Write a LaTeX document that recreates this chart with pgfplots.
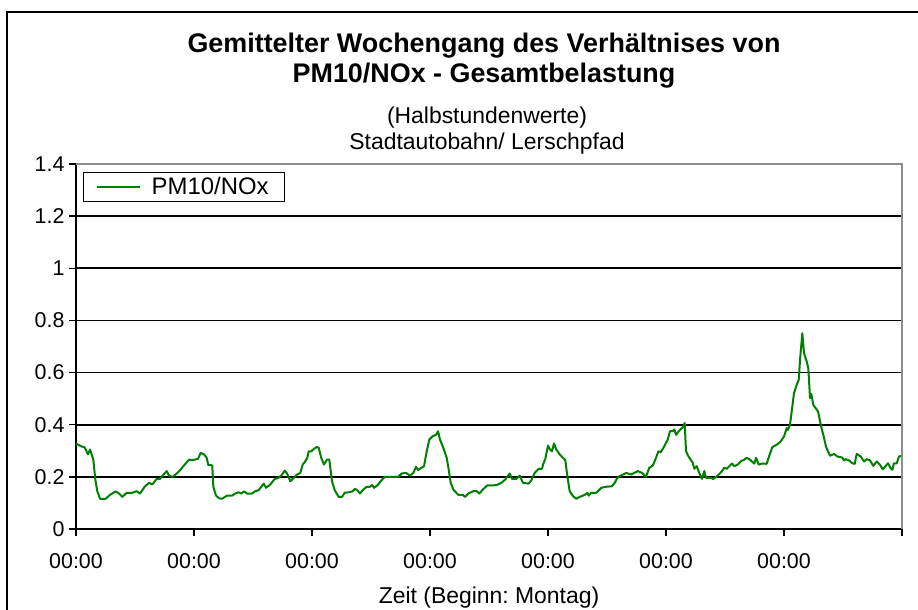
\documentclass[border=0pt]{standalone}
\usepackage{fontspec}
\setmainfont{Liberation Sans}
\usepackage{pgfplots}
\pgfplotsset{compat=1.18}
\usepackage{pgfplotstable}
\frenchspacing

\definecolor{xlgreen}{RGB}{0,128,0}
\definecolor{frame}{RGB}{140,140,140}

% Halbstundenmittel, x = Stunden ab Montag 00:00
\pgfplotstableread{
h y
0 0.328
0.96 0.318
1.77 0.313
2.44 0.286
2.85 0.305
3.52 0.266
3.93 0.19
4.33 0.145
4.88 0.116
6.04 0.116
6.92 0.131
8.07 0.144
8.75 0.136
9.42 0.123
10.31 0.139
11.45 0.139
12.35 0.145
13.02 0.136
13.97 0.162
14.85 0.177
15.52 0.171
16.41 0.192
17.08 0.192
17.55 0.203
18.45 0.222
18.92 0.205
19.67 0.2
20.6 0.215
21.29 0.228
22.11 0.247
22.98 0.266
23.45 0.264
24.14 0.266
24.81 0.269
25.36 0.292
26.03 0.286
26.58 0.273
26.91 0.245
27.52 0.245
27.72 0.242
27.93 0.162
28.48 0.128
29.09 0.118
29.7 0.116
30.71 0.128
31.73 0.128
32.4 0.136
33.09 0.141
33.62 0.136
34.17 0.144
34.78 0.136
35.8 0.136
36.35 0.144
37.16 0.149
38.18 0.174
38.64 0.158
39.52 0.171
40.41 0.192
41.09 0.195
41.76 0.205
42.45 0.224
42.92 0.213
43.59 0.183
44.28 0.196
44.95 0.209
45.62 0.215
46.11 0.247
46.64 0.26
47.04 0.273
47.33 0.298
47.86 0.298
48.35 0.307
49.02 0.315
49.36 0.311
49.89 0.273
50.44 0.247
51.05 0.266
51.52 0.266
52.07 0.183
52.62 0.149
53.43 0.123
54.1 0.123
54.65 0.139
55.59 0.141
56.28 0.145
56.75 0.154
57.21 0.149
57.76 0.136
58.43 0.151
59.12 0.162
59.8 0.162
60.2 0.169
60.61 0.158
61.28 0.167
61.97 0.183
62.79 0.2
65.55 0.2
66.24 0.213
67.12 0.215
67.93 0.205
68.6 0.215
69.15 0.238
69.62 0.226
70.11 0.233
70.78 0.241
71.33 0.298
71.86 0.343
72.55 0.356
73.22 0.361
73.63 0.375
74.03 0.343
74.71 0.311
75.4 0.273
75.8 0.228
76.21 0.177
76.74 0.151
77.76 0.131
78.65 0.131
79.12 0.123
79.79 0.136
80.81 0.145
81.5 0.145
82.03 0.136
82.72 0.151
83.65 0.167
85.49 0.168
86.5 0.177
87.32 0.19
88.21 0.213
88.68 0.192
89.55 0.192
90.24 0.205
90.91 0.177
92.07 0.174
92.6 0.187
93.29 0.215
94.11 0.231
94.78 0.231
94.98 0.247
95.45 0.269
96.0 0.32
96.41 0.305
96.81 0.298
97.22 0.328
97.69 0.305
98.38 0.286
99.05 0.273
99.52 0.264
99.93 0.203
100.41 0.145
101.09 0.126
101.76 0.116
102.45 0.123
103.47 0.131
104.0 0.139
104.28 0.128
104.81 0.139
105.83 0.139
106.84 0.158
107.86 0.162
109.02 0.164
109.57 0.177
110.1 0.196
110.58 0.203
111.25 0.209
111.92 0.215
112.88 0.209
113.55 0.215
114.25 0.222
115.12 0.215
115.93 0.2
116.6 0.235
117.3 0.243
117.97 0.273
118.44 0.298
118.98 0.295
119.66 0.318
120.35 0.343
120.81 0.375
121.36 0.375
121.69 0.382
122.03 0.361
122.58 0.375
123.05 0.384
123.52 0.392
123.8 0.407
124.07 0.298
124.62 0.277
125.08 0.264
125.43 0.254
125.76 0.231
126.24 0.241
126.77 0.215
127.32 0.192
127.79 0.222
128.14 0.196
129.15 0.196
129.62 0.192
130.52 0.205
131.39 0.222
131.86 0.235
132.35 0.231
132.88 0.241
133.42 0.251
133.89 0.241
134.58 0.247
135.25 0.26
135.92 0.266
136.41 0.273
137.08 0.266
137.63 0.256
137.96 0.251
138.31 0.273
138.85 0.247
139.53 0.251
140.48 0.25
140.95 0.278
141.62 0.314
142.52 0.323
143.33 0.336
144.0 0.355
144.55 0.387
144.81 0.38
145.22 0.4
145.69 0.47
146.03 0.521
146.58 0.553
146.99 0.572
147.26 0.649
147.72 0.751
148.07 0.674
148.62 0.642
148.94 0.617
149.29 0.502
149.55 0.518
149.96 0.476
150.45 0.463
150.92 0.451
151.47 0.4
151.99 0.361
152.54 0.316
152.95 0.297
153.36 0.281
154.17 0.288
154.84 0.278
155.86 0.274
156.2 0.263
156.55 0.268
157.22 0.263
157.89 0.252
158.38 0.25
158.78 0.288
159.6 0.278
160.27 0.259
160.82 0.268
161.49 0.263
162.16 0.242
162.85 0.259
163.53 0.246
164.08 0.229
164.69 0.242
165.15 0.252
165.7 0.233
166.03 0.227
166.37 0.252
166.92 0.252
167.39 0.278
168 0.281
}\ratio

\begin{document}
\begin{tikzpicture}[x=1bp,y=1bp]
\path[use as bounding box] (0,0) rectangle (918,610);
% Rahmen des Diagrammbereichs (rechts und unten abgeschnitten)
\draw[line width=2bp] (7,-5) -- (7,598) -- (930,598);

\node[font=\fontsize{27}{32}\selectfont\bfseries] at (484,564) {Gemittelter Wochengang des Verhältnises von};
\node[font=\fontsize{27}{32}\selectfont\bfseries] at (484,534) {PM10/NOx - Gesamtbelastung};
\node[font=\fontsize{23}{27}\selectfont] at (487,492) {(Halbstundenwerte)};
\node[font=\fontsize{23}{27}\selectfont] at (487,466) {Stadtautobahn/ Lerschpfad};

\begin{axis}[
    at={(76bp,81bp)}, anchor=south west,
    width=826bp, height=365bp, scale only axis,
    xmin=0, xmax=168, ymin=0, ymax=1.4,
    axis x line*=bottom, axis y line*=left,
    axis line style={line width=1.8bp, black, -},
    xtick={0,24,...,168},
    xticklabels={00:00,00:00,00:00,00:00,00:00,00:00,00:00,},
    ytick={0,0.2,...,1.41},
    tick align=outside,
    major tick length=7bp,
    tick style={line width=1.5bp, black},
    ymajorgrids,
    grid style={line width=1.6bp, black},
    tick label style={font=\fontsize{21.5}{25}\selectfont},
    /pgf/number format/assume math mode=true,
    /pgf/number format/fixed,
    xticklabel shift=14bp,
    yticklabel shift=1bp,
    xlabel={Zeit (Beginn: Montag)},
    xlabel style={font=\fontsize{23}{27}\selectfont, at={(axis description cs:0.5,0)}, anchor=center, yshift=-69bp},
    legend style={at={(0.0085,0.978)}, anchor=north west, draw=black, line width=1.3bp,
        font=\fontsize{24}{28}\selectfont, inner xsep=12bp, inner ysep=1bp,
        nodes={inner xsep=4bp, inner ysep=4bp},
        /tikz/every odd column/.append style={column sep=7bp}},
    legend image code/.code={\draw[xlgreen, line width=2bp] (0bp,0bp) -- (43bp,0bp);},
    clip=false,
]
\addplot[xlgreen, line width=2bp, line join=round] table[x=h, y=y] {\ratio};
\addlegendentry{PM10/NOx}
\draw[frame, line width=1.5bp] (rel axis cs:0,1) -- (rel axis cs:1,1) -- (rel axis cs:1,0);
\end{axis}
\end{tikzpicture}
\end{document}
